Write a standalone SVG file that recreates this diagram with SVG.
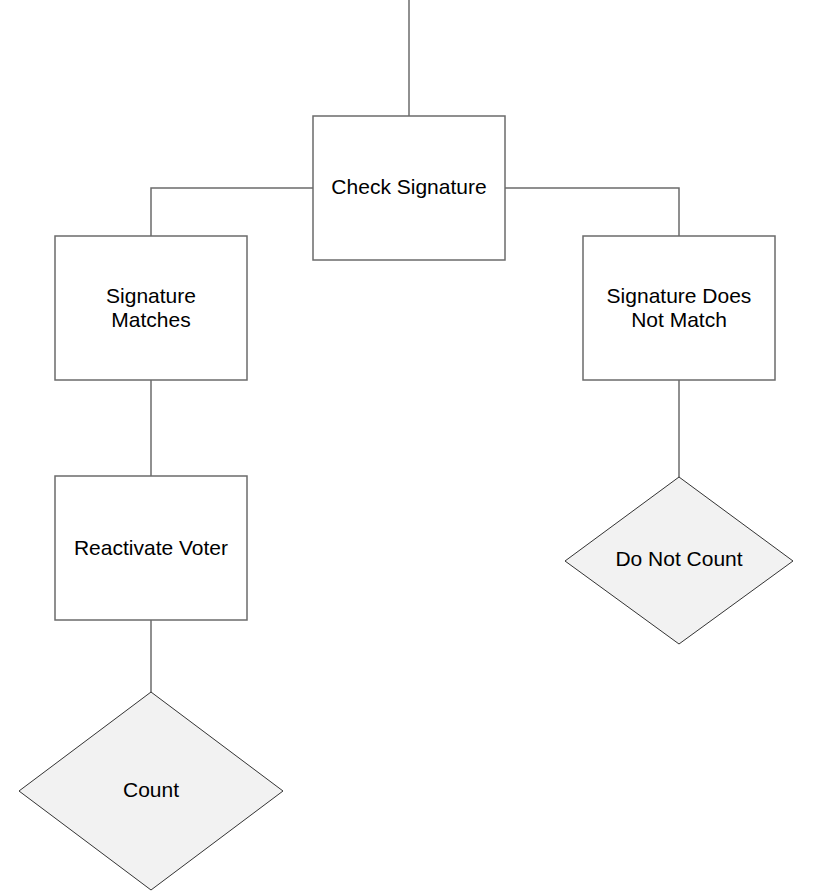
<svg xmlns="http://www.w3.org/2000/svg" width="819" height="893" viewBox="0 0 819 893">
<style>
.box{fill:#ffffff;stroke:#6b6b6b;stroke-width:1.5}
.dia{fill:#f2f2f2;stroke:#333333;stroke-width:1}
.edge{fill:none;stroke:#6b6b6b;stroke-width:1.5}
text{font-family:"Liberation Sans",Arial,sans-serif;font-size:21px;fill:#000;text-anchor:middle}
</style>
<rect width="819" height="893" fill="#ffffff"/>
<g id="connectors">
<path class="edge" d="M409,0 V116"/>
<path class="edge" d="M313,188 H151 V236"/>
<path class="edge" d="M505,188 H679 V236"/>
<path class="edge" d="M151,380 V476"/>
<path class="edge" d="M151,620 V692"/>
<path class="edge" d="M679,380 V477"/>
</g>
<g id="check-signature">
<rect class="box" x="313" y="116" width="192" height="144"/>
<text x="409" y="194">Check Signature</text>
</g>
<g id="signature-matches">
<rect class="box" x="55" y="236" width="192" height="144"/>
<text x="151" y="303">Signature</text>
<text x="151" y="327">Matches</text>
</g>
<g id="signature-does-not-match">
<rect class="box" x="583" y="236" width="192" height="144"/>
<text x="679" y="303">Signature Does</text>
<text x="679" y="327">Not Match</text>
</g>
<g id="reactivate-voter">
<rect class="box" x="55" y="476" width="192" height="144"/>
<text x="151" y="555">Reactivate Voter</text>
</g>
<g id="count">
<polygon class="dia" points="151,692 283,791 151,890 19,791"/>
<text x="151" y="797">Count</text>
</g>
<g id="do-not-count">
<polygon class="dia" points="679,477 793,561 679,644 565,561"/>
<text x="679" y="566">Do Not Count</text>
</g>
</svg>
